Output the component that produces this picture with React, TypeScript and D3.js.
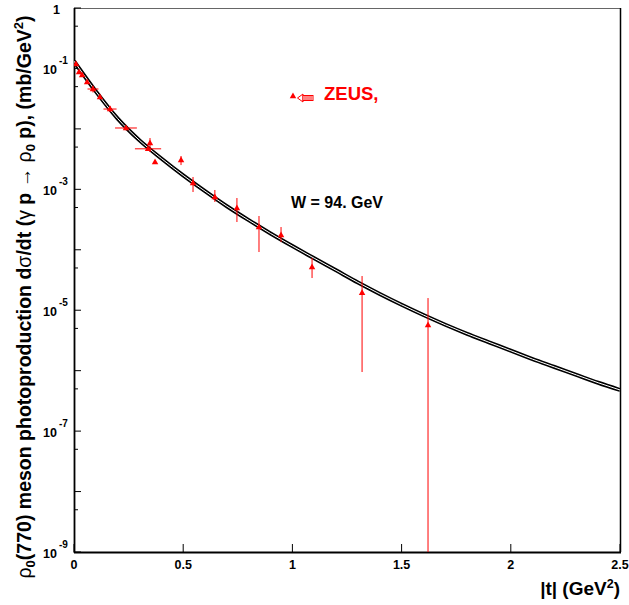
import React from "react";
import * as d3 from "d3";

// Model curve |t| (GeV^2) and dsigma/dt (mb/GeV^2)
const curveT = [0, 0.1, 0.2, 0.3, 0.4, 0.5, 0.6, 0.7, 0.8, 0.9, 1.0, 1.1, 1.2, 1.3, 1.4, 1.5, 1.6, 1.7, 1.8, 1.9, 2.0, 2.1, 2.2, 2.3, 2.4, 2.5];
const curveV = [0.132, 0.0417, 0.0148, 6.46e-3, 3.24e-3, 1.70e-3, 9.33e-4, 5.25e-4, 3.09e-4, 1.86e-4, 1.15e-4, 7.24e-5, 4.57e-5, 2.88e-5, 1.86e-5, 1.23e-5, 8.32e-6, 5.75e-6, 4.07e-6, 2.95e-6, 2.14e-6, 1.55e-6, 1.15e-6, 8.51e-7, 6.31e-7, 4.79e-7];

// ZEUS data points
const dataT = [0.009, 0.023, 0.037, 0.060, 0.087, 0.119, 0.165, 0.238, 0.348, 0.339, 0.371, 0.490, 0.545, 0.645, 0.746, 0.847, 0.948, 1.090, 1.319, 1.621];
const dataV = [0.118, 0.0873, 0.0778, 0.0597, 0.0457, 0.0337, 0.0213, 0.01035, 5.83e-3, 4.68e-3, 2.83e-3, 3.05e-3, 1.27e-3, 7.46e-4, 4.91e-4, 2.38e-4, 1.75e-4, 5.19e-5, 1.93e-5, 5.69e-6];
const dataTErr = [0, 0, 0, 0, 0.025, 0, 0.03, 0.05, 0, 0.06, 0, 0, 0, 0, 0, 0, 0, 0, 0, 0];
const dataLo = [0.118, 0.0873, 0.0778, 0.0597, 0.040, 0.0337, 0.019, 0.0095, 4.14e-3, 4.68e-3, 2.83e-3, 2.52e-3, 9.03e-4, 6.17e-4, 2.88e-4, 9.18e-5, 1.34e-4, 3.41e-5, 9.5e-7, 1e-10];
const dataHi = [0.118, 0.0873, 0.0778, 0.0597, 0.052, 0.0337, 0.024, 0.0113, 7.06e-3, 4.68e-3, 2.83e-3, 3.56e-3, 1.60e-3, 9.75e-4, 7.18e-4, 3.62e-4, 2.38e-4, 7.31e-5, 3.68e-5, 1.59e-5];

const xTicks = [0, 0.5, 1, 1.5, 2, 2.5];
const xTickLabels = ["0", "0.5", "1", "1.5", "2", "2.5"];
const yMajorExp = [0, -1, -2, -3, -4, -5, -6, -7, -8, -9];
const yLabelExp = [0, -1, -3, -5, -7, -9];

const FONT = "'Liberation Sans', Arial, Helvetica, sans-serif";
const RED = "#ff0000";

export default function App() {
  const x = d3.scaleLinear().domain([0, 2.5]).range([74, 620]);
  const y = d3.scaleLog().domain([1e-9, 1]).range([552, 8]);

  const curvePts = curveT.map((t, i) => [t, curveV[i]] as [number, number]);
  const line = d3
    .line<[number, number]>()
    .x((d) => x(d[0]))
    .y((d) => y(d[1]))
    .curve(d3.curveMonotoneX);
  const pathD = line(curvePts) || "";

  const minorVals: number[] = [];
  for (let e = -9; e < 0; e++) minorVals.push(5 * Math.pow(10, e));

  const tri = (cx: number, cy: number, s: number) =>
    `M${cx},${cy - s} L${cx + s * 0.9},${cy + s * 0.6} L${cx - s * 0.9},${cy + s * 0.6} Z`;

  return (
    <svg
      width={629}
      height={605}
      style={{ position: "absolute", left: 0, top: 0, background: "#fff" }}
      fontFamily={FONT}
    >
      <rect x={0} y={0} width={629} height={605} fill="#fff" />
      <defs>
        <clipPath id="plotclip">
          <rect x={74} y={8} width={546} height={544} />
        </clipPath>
      </defs>

      {/* frame */}
      <line x1={74} x2={620} y1={8.5} y2={8.5} stroke="#666" strokeWidth={1} />
      <line x1={620.5} x2={620.5} y1={8} y2={552} stroke="#000" strokeWidth={1.5} />

      {/* y axis ticks */}
      {yMajorExp.map((e) => (
        <line key={"ym" + e} x1={74} x2={81} y1={y(Math.pow(10, e))} y2={y(Math.pow(10, e))} stroke="#000" strokeWidth={1} />
      ))}
      {minorVals.map((v, i) => (
        <line key={"yn" + i} x1={74} x2={78} y1={y(v)} y2={y(v)} stroke="#000" strokeWidth={1} />
      ))}
      {yLabelExp.map((e) =>
        e === 0 ? (
          <text key={"yl" + e} x={60} y={y(1) + 6} textAnchor="end" fontSize={12.5} fontWeight="bold">
            1
          </text>
        ) : (
          <g key={"yl" + e}>
            <text x={57} y={y(Math.pow(10, e)) + 6} textAnchor="end" fontSize={12.5} fontWeight="bold">
              10
            </text>
            <text x={59} y={y(Math.pow(10, e)) - 4} textAnchor="start" fontSize={10} fontWeight="bold">
              {String(e)}
            </text>
          </g>
        )
      )}

      {/* x axis ticks */}
      {xTicks.map((t, i) => (
        <g key={"xt" + i}>
          <line x1={x(t)} x2={x(t)} y1={552} y2={544} stroke="#000" strokeWidth={1} />
          <text x={x(t)} y={569} textAnchor="middle" fontSize={12.5} fontWeight="bold">
            {xTickLabels[i]}
          </text>
        </g>
      ))}

      {/* axes */}
      <line x1={74.5} x2={74.5} y1={8} y2={553} stroke="#000" strokeWidth={1.8} />
      <line x1={74} x2={621} y1={552.5} y2={552.5} stroke="#000" strokeWidth={1.8} />

      <g clipPath="url(#plotclip)">
        {/* model curve (double line) */}
        <path d={pathD} fill="none" stroke="#000" strokeWidth={4} />
        <path d={pathD} fill="none" stroke="#fff" strokeWidth={1} />

        {/* data */}
        {dataT.map((t, i) => (
          <g key={"d" + i}>
            {dataHi[i] !== dataLo[i] && (
              <line x1={x(t)} x2={x(t)} y1={y(Math.max(dataLo[i], 1e-10))} y2={y(dataHi[i])} stroke={RED} strokeWidth={1} />
            )}
            {dataTErr[i] > 0 && (
              <line x1={x(t - dataTErr[i])} x2={x(t + dataTErr[i])} y1={y(dataV[i])} y2={y(dataV[i])} stroke={RED} strokeWidth={1} />
            )}
            <path d={tri(x(t), y(dataV[i]), 3.6)} fill={RED} />
          </g>
        ))}
      </g>

      {/* legend */}
      <path d={tri(293, 96, 3.6)} fill={RED} />
      <path d="M297.5,98 L303,94 L303,102 Z" fill="#fff" stroke={RED} strokeWidth={1} />
      <rect x={303} y={95.5} width={10} height={5} fill="#fff" stroke={RED} strokeWidth={1} />
      {[305, 307, 309, 311].map((xx) => (
        <line key={"h" + xx} x1={xx} x2={xx} y1={95.5} y2={100.5} stroke={RED} strokeWidth={1} />
      ))}
      <text x={324} y={100} fontSize={18.5} fontWeight="bold" fill={RED}>
        ZEUS,
      </text>

      <text x={291} y={208} fontSize={16} fontWeight="bold" fill="#000">
        W = 94. GeV
      </text>

      {/* x axis title */}
      <text x={620} y={595} textAnchor="end" fontSize={19} fontWeight="bold">
        |t| (GeV
        <tspan dy={-7} fontSize={12.5}>2</tspan>
        <tspan dy={7}>)</tspan>
      </text>

      {/* y axis title */}
      <text transform="translate(31,297) rotate(-90)" textAnchor="middle" fontSize={19.5} fontWeight="bold">
        <tspan fontWeight="normal">ρ</tspan>
        <tspan dy={4} fontSize={13}>0</tspan>
        <tspan dy={-4}>(770) meson photoproduction d</tspan>
        <tspan fontWeight="normal">σ</tspan>
        <tspan>/dt (</tspan>
        <tspan fontWeight="normal">γ</tspan>
        <tspan> p </tspan>
        <tspan fontWeight="normal">→ ρ</tspan>
        <tspan dy={4} fontSize={13}>0</tspan>
        <tspan dy={-4}> p), (mb/GeV</tspan>
        <tspan dy={-8} fontSize={13}>2</tspan>
        <tspan dy={8}>)</tspan>
      </text>
    </svg>
  );
}
